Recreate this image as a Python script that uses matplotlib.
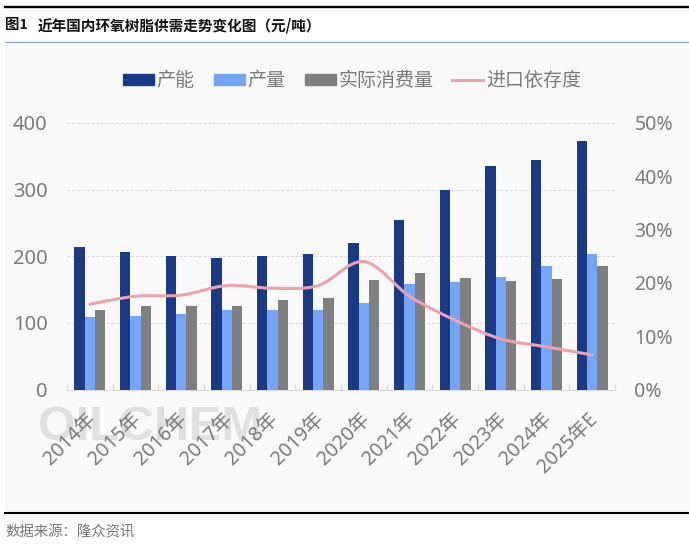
import numpy as np
import matplotlib
matplotlib.use('Agg')
import matplotlib.pyplot as plt
from matplotlib.lines import Line2D
from matplotlib.patches import Patch, PathPatch, Rectangle
from matplotlib.path import Path
from matplotlib.transforms import ScaledTranslation

plt.rcParams['font.family'] = ['Noto Sans', 'Noto Sans CJK SC', 'DejaVu Sans']

years = ['2014年', '2015年', '2016年', '2017年', '2018年', '2019年', '2020年',
         '2021年', '2022年', '2023年', '2024年', '2025年E']
capacity = [214, 207, 200, 197, 200, 204, 220, 254, 300, 336, 345, 373]
output = [109, 110, 114, 120, 120, 120, 130, 158, 161, 169, 185, 203]
consumption = [120, 125, 125, 125, 134, 138, 165, 175, 168, 163, 166, 185]
import_dep = [16, 17.5, 17.7, 19.5, 19, 19.5, 24, 17.5, 13, 9.5, 8, 6.5]

W, H = 689, 548
NAVY = '#1a3a85'
LIGHT = '#74a5f7'
GRAY = '#7f7f7f'
PINK = '#eba3b1'
TEXT = '#7a7a7a'
CJK = ['Noto Sans CJK SC', 'DejaVu Sans']


def smooth_path(x, y, k=1 / 6):
    # catmull-rom through the points, same look as excel smoothed lines
    x = np.asarray(x, float)
    y = np.asarray(y, float)
    verts = [(x[0], y[0])]
    codes = [Path.MOVETO]
    for i in range(len(x) - 1):
        i0 = max(i - 1, 0)
        i3 = min(i + 2, len(x) - 1)
        verts.append((x[i] + (x[i + 1] - x[i0]) * k, y[i] + (y[i + 1] - y[i0]) * k))
        verts.append((x[i + 1] - (x[i3] - x[i]) * k, y[i + 1] - (y[i3] - y[i]) * k))
        verts.append((x[i + 1], y[i + 1]))
        codes += [Path.CURVE4] * 3
    return Path(verts, codes)


fig = plt.figure(figsize=(W / 100, H / 100), dpi=100, facecolor='white')

# light panel behind the chart
fig.add_artist(Rectangle((5 / W, 1 - 513 / H), 691 / W, 472 / H, transform=fig.transFigure,
                         facecolor='#f9f9fa', edgecolor='none', zorder=-5))

# header and footer rules
fig.add_artist(Line2D([5 / W, 1], [1 - 6.5 / H] * 2, color='black', lw=1.7))
fig.add_artist(Line2D([5 / W, 1], [1 - 41.5 / H] * 2, color='#8ea3b5', lw=0.8))
fig.add_artist(Line2D([5 / W, 1], [1 - 513 / H] * 2, color='black', lw=1.5))

fig.text(5 / W, 1 - 25.5 / H, '图1', fontsize=10.4, fontweight='bold', color='#111111',
         va='center', family=CJK)
fig.text(38 / W, 1 - 25.5 / H, '近年国内环氧树脂供需走势变化图（元/吨）', fontsize=10.5,
         fontweight='bold', color='#111111', va='center', family=CJK)
fig.text(5 / W, 1 - 533 / H, '数据来源：隆众资讯', fontsize=10.4, color='#777777', va='center')

# watermark
fig.text(38 / W, 1 - 428 / H, 'OILCHEM', fontsize=35, fontweight='bold', color='#e0e0e0',
         family='Liberation Sans', va='center', zorder=-1)

ax = fig.add_axes([67 / W, 1 - 389.5 / H, 548 / W, 266.5 / H])
ax.patch.set_alpha(0)
x = np.arange(len(years))
w = 0.226
ax.bar(x - w, capacity, w, color=NAVY, zorder=3)
ax.bar(x, output, w, color=LIGHT, zorder=3)
ax.bar(x + w, consumption, w, color=GRAY, zorder=3)

ax.set_xlim(-0.5, len(years) - 0.5)
ax.set_ylim(0, 400)
ax.set_yticks([0, 100, 200, 300, 400])
ax.yaxis.grid(True, color='#d9d9d9', ls=(0, (3, 2)), lw=0.7, zorder=0)
ax.tick_params(axis='y', length=0, pad=14, labelsize=14.5, labelcolor=TEXT)

ax.set_xticks(x)
ax.set_xticklabels(years, rotation=45, ha='right', rotation_mode='anchor',
                   fontsize=14.2, color=TEXT)
ax.tick_params(axis='x', length=0, pad=14)
shift = ScaledTranslation(-3 / 72, 0, fig.dpi_scale_trans)
for lab in ax.get_xticklabels():
    lab.set_transform(lab.get_transform() + shift)
ax.set_xticks(np.arange(len(years) + 1) - 0.5, minor=True)
ax.tick_params(axis='x', which='minor', direction='in', length=4, color='#d9d9d9', width=0.8)
for s in ['top', 'left', 'right']:
    ax.spines[s].set_visible(False)
ax.spines['bottom'].set_color('#d9d9d9')
ax.spines['bottom'].set_linewidth(0.8)

ax2 = ax.twinx()
ax2.set_ylim(0, 50)
ax2.set_yticks([0, 10, 20, 30, 40, 50])
ax2.set_yticklabels(['0%', '10%', '20%', '30%', '40%', '50%'])
ax2.tick_params(axis='y', length=0, pad=14, labelsize=14, labelcolor=TEXT)
for s in ax2.spines.values():
    s.set_visible(False)
ax2.add_patch(PathPatch(smooth_path(x, import_dep), facecolor='none', edgecolor=PINK,
                        lw=2.2, capstyle='round', zorder=5))

handles = [Patch(color=NAVY), Patch(color=LIGHT), Patch(color=GRAY),
           Line2D([0], [0], color=PINK, lw=2.2)]
fig.legend(handles, ['产能', '产量', '实际消费量', '进口依存度'], ncol=4, frameon=False,
           loc='center', bbox_to_anchor=(352 / W, 1 - 81 / H), fontsize=13.7, labelcolor=TEXT,
           handlelength=1.63, handleheight=0.55, handletextpad=0.15, columnspacing=1.0)

fig.savefig('out.png', dpi=100)
